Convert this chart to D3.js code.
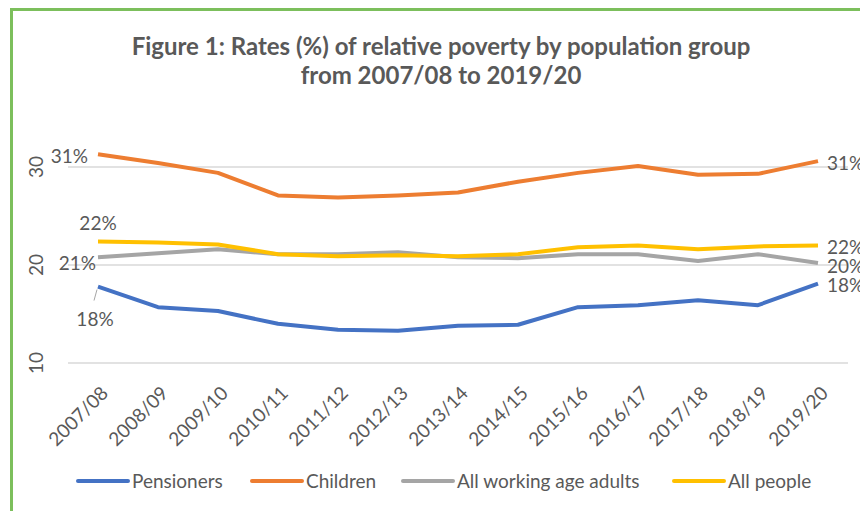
<!DOCTYPE html>
<html>
<head>
<meta charset="utf-8">
<script src="https://cdn.jsdelivr.net/npm/d3@7"></script>
<style>
    body { margin: 0; background: #fff; }
    text { font-family: Lato, "Open Sans", sans-serif; fill: #595959; }
</style>
</head>
<body>
<div id="the_chart"></div>
<script>
var years = ["2007/08", "2008/09", "2009/10", "2010/11", "2011/12", "2012/13", "2013/14",
    "2014/15", "2015/16", "2016/17", "2017/18", "2018/19", "2019/20"];
var pensioners = [17.8, 15.7, 15.3, 14.0, 13.4, 13.3, 13.8, 13.9, 15.7, 15.9, 16.4, 15.9, 18.1];
var children = [31.3, 30.4, 29.4, 27.1, 26.9, 27.1, 27.4, 28.5, 29.4, 30.1, 29.2, 29.3, 30.6];
var working = [20.8, 21.2, 21.6, 21.1, 21.1, 21.3, 20.8, 20.7, 21.1, 21.1, 20.4, 21.1, 20.2];
var allPeople = [22.4, 22.3, 22.1, 21.1, 20.9, 21.0, 20.9, 21.1, 21.8, 22.0, 21.6, 21.9, 22.0];
var yTicks = [10, 20, 30];
var seriesNames = ["Pensioners", "Children", "All working age adults", "All people"];

var series = [
    { name: seriesNames[0], values: pensioners, color: "#4472C4" },
    { name: seriesNames[1], values: children, color: "#ED7D31" },
    { name: seriesNames[2], values: working, color: "#A5A5A5" },
    { name: seriesNames[3], values: allPeople, color: "#FFC000" }
];

var w = 860;
var h = 511;

var svg = d3.select("#the_chart")
    .append("svg")
    .attr("width", w)
    .attr("height", h);

// green frame, only left and top show
svg.append("rect")
    .attr("x", 11.5).attr("y", 9.5)
    .attr("width", 900).attr("height", 600)
    .attr("fill", "none")
    .attr("stroke", "#7CBF5C")
    .attr("stroke-width", 3);

svg.append("text")
    .attr("x", 441).attr("y", 55)
    .attr("text-anchor", "middle")
    .style("font-size", "24px").style("font-weight", "bold")
    .text("Figure 1: Rates (%) of relative poverty by population group");
svg.append("text")
    .attr("x", 441).attr("y", 84)
    .attr("text-anchor", "middle")
    .style("font-size", "24px").style("font-weight", "bold")
    .text("from 2007/08 to 2019/20");

var xscale = d3.scaleBand()
    .domain(years)
    .range([68, 848]);

var yscale = d3.scaleLinear()
    .domain([10, 30])
    .range([363, 167]);

function cx(d) { return xscale(d) + xscale.bandwidth() / 2; }

// gridlines
svg.selectAll(".grid")
    .data(yTicks)
    .enter().append("line")
    .attr("x1", 68).attr("x2", 848)
    .attr("y1", function (d) { return yscale(d); })
    .attr("y2", function (d) { return yscale(d); })
    .attr("stroke", "#D9D9D9")
    .attr("stroke-width", 1.5);

// y axis labels, rotated
svg.selectAll(".ylab")
    .data(yTicks)
    .enter().append("text")
    .attr("transform", function (d) { return "translate(43," + yscale(d) + ") rotate(-90)"; })
    .attr("text-anchor", "middle")
    .style("font-size", "19px")
    .text(function (d) { return d; });

// x axis labels
svg.selectAll(".xlab")
    .data(years)
    .enter().append("text")
    .attr("transform", function (d) { return "translate(" + (cx(d) + 2) + ",385) rotate(-45)"; })
    .attr("text-anchor", "end")
    .attr("dy", "0.7em")
    .style("font-size", "19px")
    .text(function (d) { return d; });

var line = d3.line()
    .x(function (d, i) { return cx(years[i]); })
    .y(function (d) { return yscale(d); });

svg.selectAll(".series")
    .data(series)
    .enter().append("path")
    .attr("d", function (d) { return line(d.values); })
    .attr("fill", "none")
    .attr("stroke", function (d) { return d.color; })
    .attr("stroke-width", 4)
    .attr("stroke-linejoin", "round");

// data labels
var first = years[0], last = years[years.length - 1];
var n = years.length - 1;
function lab(x, y, anchor, txt) {
    svg.append("text")
        .attr("x", x).attr("y", y)
        .attr("dy", "0.35em")
        .attr("text-anchor", anchor)
        .style("font-size", "19px")
        .text(txt);
}
lab(cx(first) - 10, yscale(children[0]) + 2, "end", Math.round(children[0]) + "%");
lab(cx(first), yscale(allPeople[0]) - 18, "middle", Math.round(allPeople[0]) + "%");
lab(cx(first) - 2, yscale(working[0]) + 6, "end", Math.round(working[0]) + "%");
lab(cx(first) - 3, yscale(pensioners[0]) + 33, "middle", Math.round(pensioners[0]) + "%");
svg.append("line")
    .attr("x1", cx(first) - 1).attr("y1", yscale(pensioners[0]) + 3)
    .attr("x2", cx(first) - 4).attr("y2", yscale(pensioners[0]) + 14)
    .attr("stroke", "#A6A6A6").attr("stroke-width", 1);

lab(cx(last) + 9, yscale(children[n]) + 2, "start", Math.round(children[n]) + "%");
lab(cx(last) + 9, yscale(allPeople[n]) + 2, "start", Math.round(allPeople[n]) + "%");
lab(cx(last) + 9, yscale(working[n]) + 3, "start", Math.round(working[n]) + "%");
lab(cx(last) + 9, yscale(pensioners[n]) + 2, "start", Math.round(pensioners[n]) + "%");

// legend
var legX = [78, 252, 403, 674];
var leg = svg.selectAll(".leg")
    .data(series)
    .enter().append("g")
    .attr("transform", function (d, i) { return "translate(" + legX[i] + ",481)"; });
leg.append("line")
    .attr("x1", 0).attr("x2", 50)
    .attr("stroke", function (d) { return d.color; })
    .attr("stroke-width", 4)
    .attr("stroke-linecap", "round");
leg.append("text")
    .attr("x", 54)
    .attr("dy", "0.35em")
    .style("font-size", "19px")
    .text(function (d) { return d.name; });
</script>
</body>
</html>
